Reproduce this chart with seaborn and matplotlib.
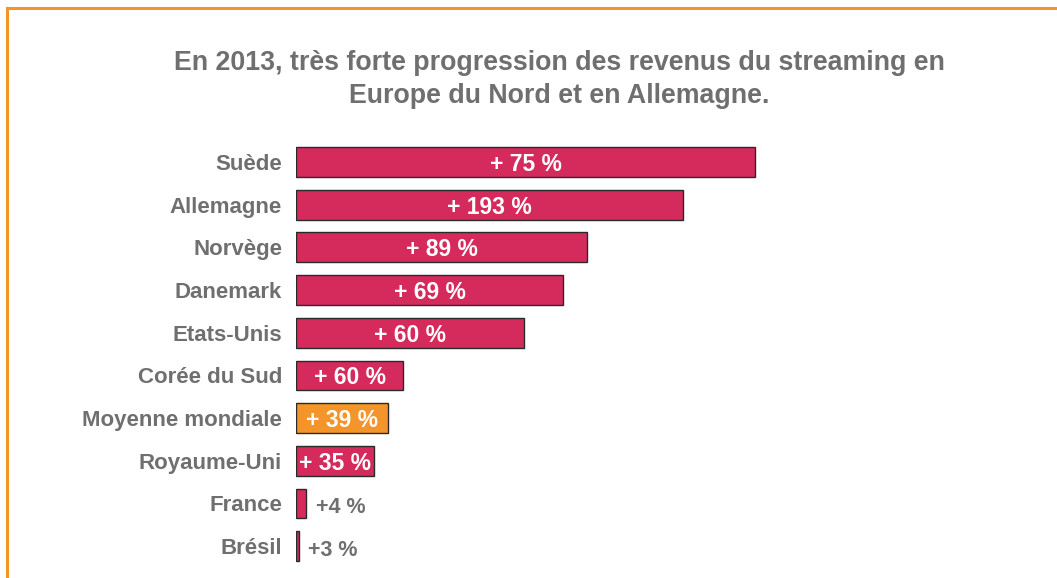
import matplotlib
matplotlib.use("Agg")
import matplotlib.pyplot as plt
import matplotlib.patches as mpatches
import seaborn as sns
import pandas as pd

# data (bar length is in pixel-ish units, labels are growth)
pays = ["Suède", "Allemagne", "Norvège", "Danemark", "Etats-Unis",
        "Corée du Sud", "Moyenne mondiale", "Royaume-Uni", "France", "Brésil"]
longueur = [459, 387, 291, 267, 228, 107, 92, 78, 10, 2.5]
etiquettes = ["+ 75 %", "+ 193 %", "+ 89 %", "+ 69 %", "+ 60 %",
              "+ 60 %", "+ 39 %", "+ 35 %", "+4 %", "+3 %"]

rose = "#D42A5C"
orange = "#F3952A"
gris = "#6F6F6F"
couleurs = [orange if p == "Moyenne mondiale" else rose for p in pays]

df = pd.DataFrame({"pays": pays, "val": longueur})

sns.set_style("white")
plt.rcParams['font.family'] = ['Liberation Sans', 'DejaVu Sans']

fig = plt.figure(figsize=(10.57, 5.78), dpi=100)
ax = fig.add_axes([296/1057, 1 - 567.5/578, 704/1057, (567.5 - 140.7)/578])

sns.barplot(data=df, y="pays", x="val", hue="pays", palette=couleurs,
            legend=False, orient="h", width=0.7, edgecolor="#2a2a2a",
            linewidth=1.0, saturation=1, ax=ax)

ax.set_xlim(0, 704)
ax.set_xlabel("")
ax.set_ylabel("")
ax.set_xticks([])
for s in ax.spines.values():
    s.set_visible(False)
ax.tick_params(axis="y", length=0, pad=10)
for t in ax.get_yticklabels():
    t.set_fontsize(16)
    t.set_fontweight("bold")
    t.set_color(gris)

for i, (v, lab) in enumerate(zip(longueur, etiquettes)):
    if v > 40:
        ax.text(v / 2, i, lab, ha="center", va="center_baseline",
                color="white", fontsize=16.5, fontweight="bold")
    else:
        ax.text(v + 10, i + 0.04, lab, ha="left", va="center_baseline",
                color=gris, fontsize=15.5, fontweight="bold")

fig.text(559/1057, 1 - 63/578, "En 2013, très forte progression des revenus du streaming en",
         ha="center", va="center", fontsize=19.3, fontweight="bold", color=gris)
fig.text(559/1057, 1 - 96/578, "Europe du Nord et en Allemagne.",
         ha="center", va="center", fontsize=19.3, fontweight="bold", color=gris)

# orange frame, only top and left edges are visible in the crop
cadre = mpatches.Rectangle((7/1057, -0.1), 1.2, 1 - 8/578 + 0.1,
                           transform=fig.transFigure, fill=False,
                           edgecolor=orange, linewidth=2.2)
fig.patches.append(cadre)

fig.savefig("out.png", dpi=100, facecolor="white")
